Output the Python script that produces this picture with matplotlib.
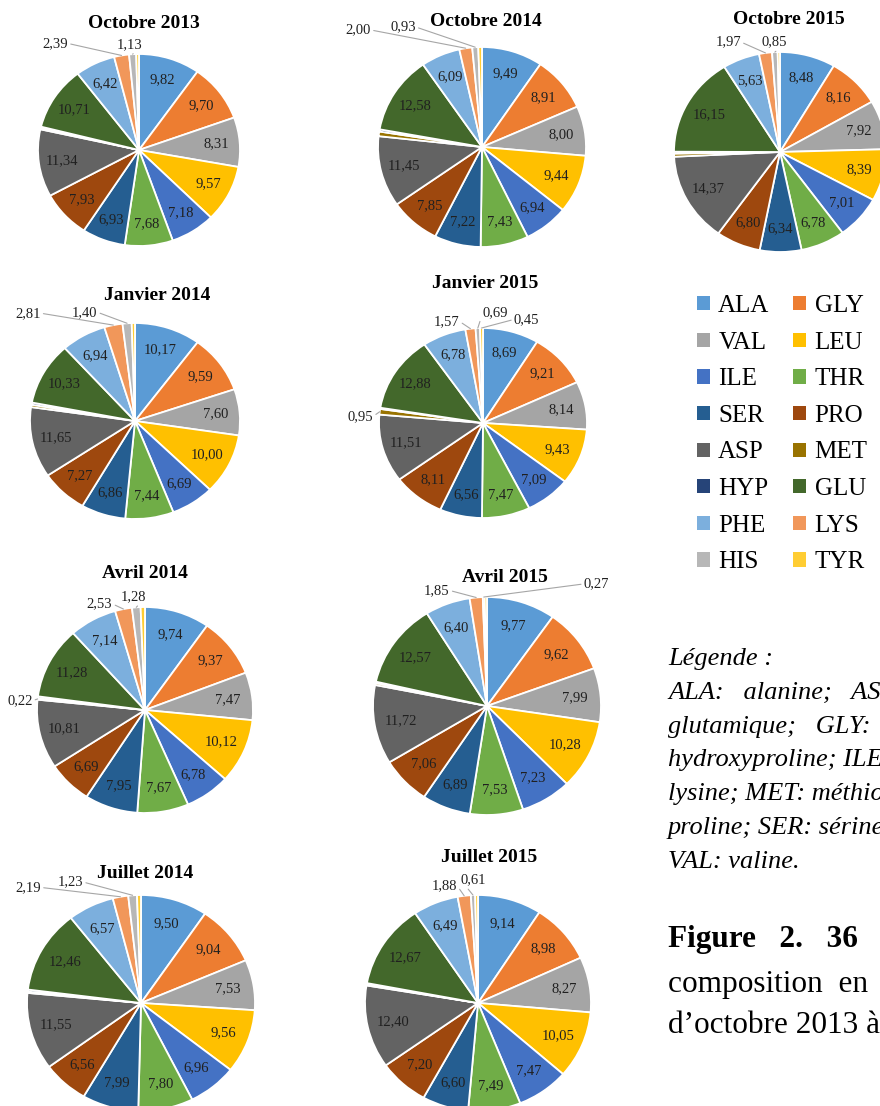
import matplotlib
matplotlib.use("Agg")
import matplotlib.pyplot as plt
from matplotlib.patches import Patch
import numpy as np

plt.rcParams['font.family'] = ['Liberation Serif', 'DejaVu Serif']

W, H = 880, 1106

# acides aminés, dans l'ordre des secteurs (sens horaire depuis midi)
acides = ['ALA', 'GLY', 'VAL', 'LEU', 'ILE', 'THR', 'SER', 'PRO',
          'ASP', 'MET', 'HYP', 'GLU', 'PHE', 'LYS', 'HIS', 'TYR']
couleurs = ['#5B9BD5', '#ED7D31', '#A5A5A5', '#FFC000', '#4472C4', '#70AD47',
            '#255E91', '#9E480E', '#636363', '#997300', '#264478', '#43682B',
            '#7CAFDD', '#F1975A', '#B7B7B7', '#FFCD33']

# composition (%) par campagne
oct_2013 = [9.82, 9.70, 8.31, 9.57, 7.18, 7.68, 6.93, 7.93, 11.34, 0.25, 0.20, 10.71, 6.42, 2.39, 1.13, 0.44]
oct_2014 = [9.49, 8.91, 8.00, 9.44, 6.94, 7.43, 7.22, 7.85, 11.45, 0.75, 0.35, 12.58, 6.09, 2.00, 0.93, 0.57]
oct_2015 = [8.48, 8.16, 7.92, 8.39, 7.01, 6.78, 6.34, 6.80, 14.37, 0.50, 0.30, 16.15, 5.63, 1.97, 0.85, 0.35]
jan_2014 = [10.17, 9.59, 7.60, 10.00, 6.69, 7.44, 6.86, 7.27, 11.65, 0.40, 0.35, 10.33, 6.94, 2.81, 1.40, 0.50]
jan_2015 = [8.69, 9.21, 8.14, 9.43, 7.09, 7.47, 6.56, 8.11, 11.51, 0.95, 0.20, 12.88, 6.78, 1.57, 0.69, 0.45]
avr_2014 = [9.74, 9.37, 7.47, 10.12, 6.78, 7.67, 7.95, 6.69, 10.81, 0.22, 0.30, 11.28, 7.14, 2.53, 1.28, 0.65]
avr_2015 = [9.77, 9.62, 7.99, 10.28, 7.23, 7.53, 6.89, 7.06, 11.72, 0.30, 0.20, 12.57, 6.40, 1.85, 0.27, 0.32]
jul_2014 = [9.50, 9.04, 7.53, 9.56, 6.96, 7.80, 7.99, 6.56, 11.55, 0.20, 0.30, 12.46, 6.57, 2.19, 1.23, 0.56]
jul_2015 = [9.14, 8.98, 8.27, 10.05, 7.47, 7.49, 6.60, 7.20, 12.40, 0.15, 0.20, 12.67, 6.49, 1.88, 0.61, 0.40]

# (titre, valeurs, centre et rayons du camembert en px, position du titre, étiquettes extérieures)
graphiques = [
    ('Octobre 2013', oct_2013, (139, 150, 101, 96), (144, 24), [(13, -0.83, 1.11), (14, -0.09, 1.10)]),
    ('Octobre 2014', oct_2014, (482, 147, 104, 100), (486, 21), [(13, -1.19, 1.17), (14, -0.76, 1.20)]),
    ('Octobre 2015', oct_2015, (780, 152, 106, 100), (789, 19), [(13, -0.49, 1.10), (14, -0.05, 1.10)]),
    ('Janvier 2014', jan_2014, (135, 421, 105, 98), (157, 296), [(13, -1.02, 1.10), (14, -0.48, 1.11)]),
    ('Janvier 2015', jan_2015, (483, 423, 104, 95), (485, 283),
     [(13, -0.35, 1.07), (14, 0.12, 1.16), (15, 0.42, 1.09), (9, -1.18, 0.07)]),
    ('Avril 2014', avr_2014, (145, 710, 108, 103), (145, 573),
     [(13, -0.42, 1.03), (14, -0.11, 1.10), (9, -1.16, 0.09)]),
    ('Avril 2015', avr_2015, (487, 706, 114, 109), (505, 578), [(13, -0.44, 1.06), (14, 0.96, 1.12)]),
    ('Juillet 2014', jul_2014, (141, 1003, 114, 108), (145, 873), [(13, -0.99, 1.07), (14, -0.62, 1.12)]),
    ('Juillet 2015', jul_2015, (478, 1003, 113, 108), (489, 857), [(13, -0.30, 1.09), (14, -0.04, 1.14)]),
]


def fmt(v):
    return f"{v:.2f}".replace('.', ',')


fig = plt.figure(figsize=(W / 100, H / 100), dpi=100)
fig.patch.set_facecolor('white')

for titre, vals, (cx, cy, rx, ry), (tx, ty), dehors in graphiques:
    ax = fig.add_axes([(cx - rx) / W, 1 - (cy + ry) / H, 2 * rx / W, 2 * ry / H])
    wedges, _ = ax.pie(vals, colors=couleurs, startangle=90, counterclock=False,
                       wedgeprops=dict(edgecolor='white', linewidth=1.3))
    ax.set_xlim(-1, 1)
    ax.set_ylim(-1, 1)
    ax.set_aspect('auto')
    ax.axis('off')
    for w in wedges:
        w.set_clip_on(False)
    # étiquettes dans les secteurs
    for i, w in enumerate(wedges):
        ang = np.deg2rad((w.theta1 + w.theta2) / 2)
        if vals[i] >= 3:
            ax.text(0.77 * np.cos(ang), 0.77 * np.sin(ang), fmt(vals[i]),
                    ha='center', va='center', fontsize=10.5, color='#202020')
    # petites valeurs avec trait de rappel
    for i, ux, uy in dehors:
        w = wedges[i]
        ang = np.deg2rad((w.theta1 + w.theta2) / 2)
        px, py = np.cos(ang), np.sin(ang)
        rel = (1, 0.5) if ux < px else (0, 0.5)
        ax.annotate(fmt(vals[i]), xy=(px, py), xytext=(ux, uy),
                    ha='center', va='center', fontsize=10.5, color='#202020',
                    annotation_clip=False,
                    arrowprops=dict(arrowstyle='-', color='#A6A6A6', lw=0.8,
                                    relpos=rel, shrinkA=0, shrinkB=0))
    fig.text(tx / W, 1 - ty / H, titre, ha='center', va='center',
             fontsize=14, fontweight='bold')

# légende en deux colonnes (remplie par colonne)
ordre = list(range(0, 16, 2)) + list(range(1, 16, 2))
poignees = [Patch(facecolor=couleurs[i], edgecolor='none') for i in ordre]
noms = [acides[i] for i in ordre]
fig.legend(poignees, noms, ncol=2, loc='upper left',
           bbox_to_anchor=(697 / W, 1 - 295 / H), frameon=False,
           fontsize=18, handlelength=0.5, handleheight=0.5,
           handletextpad=0.35, columnspacing=0.95, labelspacing=0.585,
           borderpad=0, borderaxespad=0)

# texte à droite (coupé au bord comme dans l'original)
lignes_legende = [
    'Légende :',
    'ALA:   alanine;   ASP:   acide   aspartique;   GLU:   acide',
    'glutamique;   GLY:   glycine;   HIS:   histidine;   HYP:',
    'hydroxyproline; ILE: isoleucine; LEU: leucine; LYS:',
    'lysine; MET: méthionine; PHE: phénylalanine; PRO:',
    'proline; SER: sérine; THR: thréonine; TYR: tyrosine;',
    'VAL: valine.',
]
for k, txt in enumerate(lignes_legende):
    fig.text(668 / W, 1 - (659 + 33.8 * k) / H, txt, ha='left', va='center',
             fontsize=19, fontstyle='italic')

fig.text(668 / W, 1 - 939 / H, 'Figure   2.   36   :   Variation   saisonnière   de   la',
         ha='left', va='center', fontsize=22.5, fontweight='bold')
fig.text(668 / W, 1 - 984 / H, 'composition  en  acides  aminés  des  échantillons',
         ha='left', va='center', fontsize=22.5)
fig.text(668 / W, 1 - 1025 / H, 'd’octobre 2013 à juillet 2015.',
         ha='left', va='center', fontsize=22.5)

fig.savefig('out.png', dpi=100)
